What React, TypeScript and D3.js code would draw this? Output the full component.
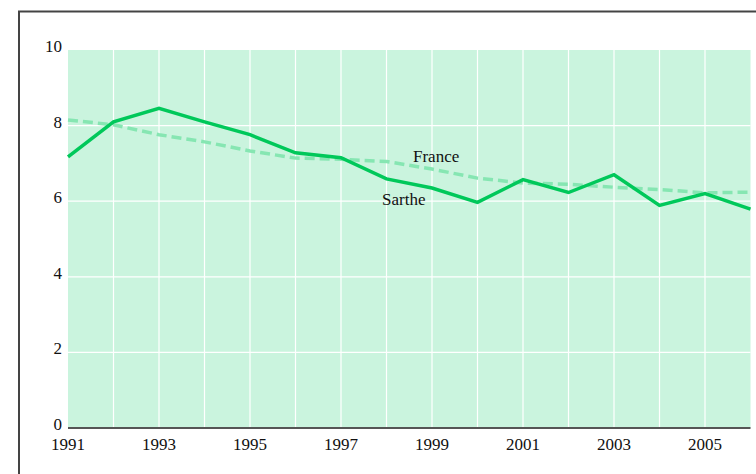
import React, { useEffect, useRef } from 'react';
import * as d3 from 'd3';

const years = d3.range(1991, 2007);
const sartheValues = [7.17, 8.1, 8.46, 8.1, 7.76, 7.28, 7.15, 6.59, 6.35, 5.97, 6.57, 6.23, 6.7, 5.89, 6.2, 5.79];
const franceValues = [8.15, 8.02, 7.76, 7.57, 7.33, 7.14, 7.11, 7.05, 6.85, 6.61, 6.48, 6.45, 6.37, 6.31, 6.22, 6.24];
const yTicks = [0, 2, 4, 6, 8, 10];
const xTickLabels = [1991, 1993, 1995, 1997, 1999, 2001, 2003, 2005];

const App: React.FC = () => {
  const svgRef = useRef<SVGSVGElement>(null);

  useEffect(() => {
    if (!svgRef.current) return;
    const svg = d3.select(svgRef.current);
    svg.selectAll("*").remove();

    const plot = { left: 68, right: 750.5, top: 50, bottom: 428 };

    // outer frame (runs off the page on the right and bottom)
    svg.append("rect")
      .attr("x", 19)
      .attr("y", 11.5)
      .attr("width", 800)
      .attr("height", 500)
      .attr("fill", "white")
      .attr("stroke", "#444")
      .attr("stroke-width", 2);

    const x = d3.scaleLinear().domain([1991, 2006]).range([plot.left, plot.right]);
    const y = d3.scaleLinear().domain([0, 10]).range([plot.bottom, plot.top]);

    svg.append("rect")
      .attr("x", plot.left)
      .attr("y", plot.top)
      .attr("width", plot.right - plot.left)
      .attr("height", plot.bottom - plot.top)
      .attr("fill", "#caf4de");

    // grid
    svg.append("g")
      .selectAll("line")
      .data(years.slice(1, -1))
      .join("line")
      .attr("x1", d => x(d))
      .attr("x2", d => x(d))
      .attr("y1", plot.top)
      .attr("y2", plot.bottom)
      .attr("stroke", "white")
      .attr("stroke-width", 1.2);

    svg.append("g")
      .selectAll("line")
      .data(yTicks.slice(1, -1))
      .join("line")
      .attr("x1", plot.left)
      .attr("x2", plot.right)
      .attr("y1", d => y(d))
      .attr("y2", d => y(d))
      .attr("stroke", "white")
      .attr("stroke-width", 1.2);

    // bottom axis line
    svg.append("line")
      .attr("x1", plot.left)
      .attr("x2", plot.right)
      .attr("y1", plot.bottom)
      .attr("y2", plot.bottom)
      .attr("stroke", "#555")
      .attr("stroke-width", 2);

    // y labels
    svg.append("g")
      .selectAll("text")
      .data(yTicks)
      .join("text")
      .attr("class", "lbl")
      .attr("x", 62)
      .attr("y", d => y(d) + 2)
      .attr("text-anchor", "end")
      .text(d => d);

    // x labels
    svg.append("g")
      .selectAll("text")
      .data(xTickLabels)
      .join("text")
      .attr("class", "lbl")
      .attr("x", d => x(d))
      .attr("y", 450)
      .attr("text-anchor", "middle")
      .text(d => d);

    const line = d3.line<number>()
      .x((_, i) => x(years[i]))
      .y(d => y(d));

    svg.append("path")
      .datum(franceValues)
      .attr("d", line)
      .attr("fill", "none")
      .attr("stroke", "#86e6b2")
      .attr("stroke-width", 3.5)
      .attr("stroke-dasharray", "10,5");

    svg.append("path")
      .datum(sartheValues)
      .attr("d", line)
      .attr("fill", "none")
      .attr("stroke", "#00c85a")
      .attr("stroke-width", 3.5);

    svg.append("text")
      .attr("class", "lbl")
      .attr("x", 413)
      .attr("y", 161.5)
      .text("France");

    svg.append("text")
      .attr("class", "lbl")
      .attr("x", 382)
      .attr("y", 205)
      .text("Sarthe");
  }, []);

  return (
    <>
      <style>{`.lbl { font-family: "Liberation Serif", serif; font-size: 17px; fill: #111; }`}</style>
      <svg
        ref={svgRef}
        width={756}
        height={474}
        style={{ position: 'absolute', left: 0, top: 0, background: 'white' }}
      />
    </>
  );
};

export default App;
